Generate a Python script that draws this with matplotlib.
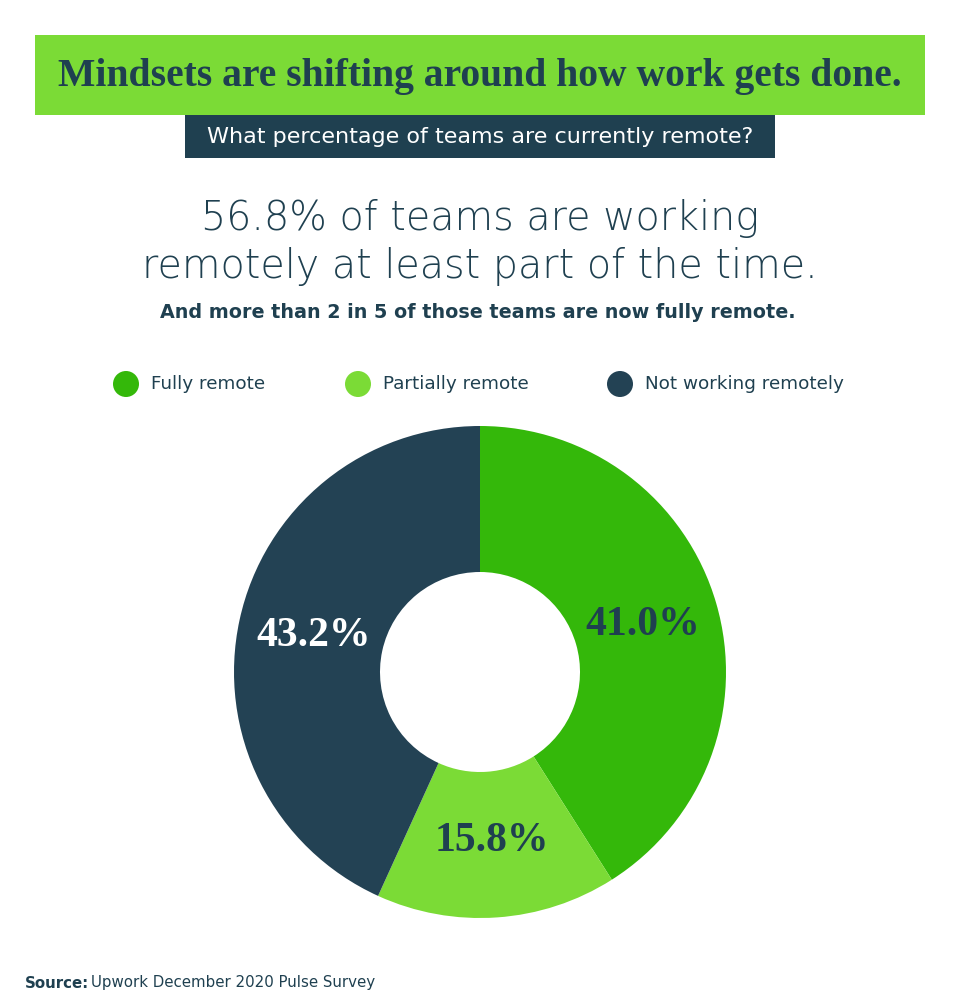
import matplotlib.pyplot as plt
from matplotlib.patches import Rectangle, Circle

# data
categories = ['Fully remote', 'Partially remote', 'Not working remotely']
shares = [41.0, 15.8, 43.2]
colors = ['#34b80a', '#7bdb36', '#234254']
label_colors = ['#1f4050', '#1f4050', '#ffffff']

title = 'Mindsets are shifting around how work gets done.'
question = 'What percentage of teams are currently remote?'
headline = ['56.8% of teams are working', 'remotely at least part of the time.']
subline = 'And more than 2 in 5 of those teams are now fully remote.'

W, H = 960, 1006
dark = '#1f4050'
sans = ['DejaVu Sans']
serif = ['Liberation Serif', 'DejaVu Serif']

fig = plt.figure(figsize=(W / 100, H / 100), dpi=100)
fig.patch.set_facecolor('white')

# background axes in pixel coordinates (y down)
bg = fig.add_axes([0, 0, 1, 1])
bg.set_xlim(0, W)
bg.set_ylim(H, 0)
bg.axis('off')

# title banner
bg.add_patch(Rectangle((35, 35), 890, 80, color='#7bdb36', lw=0))
bg.text(480, 76, title, ha='center', va='center', fontsize=28.5, fontweight='bold',
        family=serif, color=dark)

# question box
bg.add_patch(Rectangle((185, 115), 590, 43, color=dark, lw=0))
bg.text(480, 137, question, ha='center', va='center', fontsize=16,
        family=sans, color='white')

# headline
bg.text(480, 218, headline[0], ha='center', va='center', fontsize=28.5,
        fontweight='light', family=sans, color=dark)
bg.text(480, 266, headline[1], ha='center', va='center', fontsize=28.5,
        fontweight='light', family=sans, color=dark)
bg.text(478, 312, subline, ha='center', va='center', fontsize=13.8,
        fontweight='bold', family=sans, color=dark)

# legend
legend_x = [126, 358, 620]
for x, name, c in zip(legend_x, categories, colors):
    bg.add_patch(Circle((x, 384), 13, color=c, lw=0))
    bg.text(x + 25, 384, name, ha='left', va='center', fontsize=13.2,
            family=sans, color=dark)

# source
bg.text(25, 983, 'Source:', ha='left', va='center', fontsize=10.8, fontweight='bold',
        family=sans, color=dark)
bg.text(91, 983, 'Upwork December 2020 Pulse Survey', ha='left', va='center',
        fontsize=10.8, family=sans, color=dark)

# donut
cx, cy, r = 480, 672, 246
ax = fig.add_axes([(cx - 250) / W, (H - cy - 250) / H, 500 / W, 500 / H])
wedges, texts, autotexts = ax.pie(
    shares, colors=colors, startangle=90, counterclock=False, radius=r,
    autopct='%.1f%%', pctdistance=0.69,
    wedgeprops=dict(width=r - 100, linewidth=0), frame=True)
ax.set_xlim(-250, 250)
ax.set_ylim(-250, 250)
ax.axis('off')
for t, c in zip(autotexts, label_colors):
    t.set_color(c)
    t.set_fontsize(30)
    t.set_fontweight('bold')
    t.set_family(serif)

fig.savefig('out.png', dpi=100)
